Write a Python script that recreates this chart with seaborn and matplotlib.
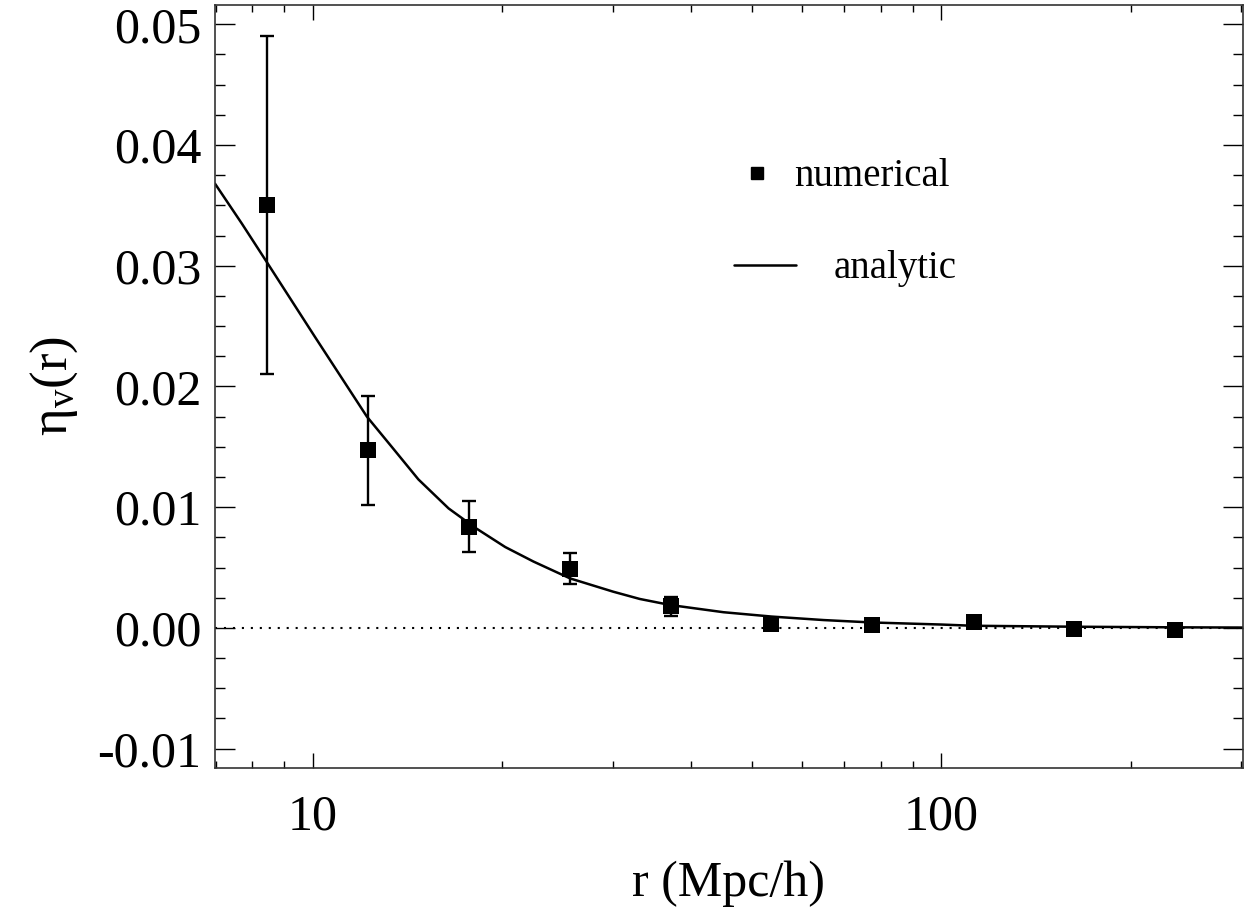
import numpy as np
import pandas as pd
import matplotlib
matplotlib.use('Agg')
import matplotlib.pyplot as plt
import seaborn as sns
from matplotlib.ticker import FixedLocator, FixedFormatter, LogLocator, NullFormatter
from matplotlib.lines import Line2D

# numerical points (r in Mpc/h, eta_v, 1-sigma error)
r_num = [8.45, 12.24, 17.7, 25.6, 37.1, 53.6, 77.6, 112.5, 162.3, 235.0]
eta_num = [0.0350, 0.0147, 0.0084, 0.0049, 0.0018, 0.00033, 0.00022, 0.00046, -0.00012, -0.0002]
eta_err = [0.0140, 0.0045, 0.0021, 0.0013, 0.0008, 0.0004, 0.0003, 0.0003, 0.0002, 0.0002]

# analytic curve
r_ana = [6.98, 7.70, 8.44, 10.07, 12.18, 13.34, 14.71, 16.43, 18.11, 20.22, 22.42, 25.65,
         30.04, 33.1, 37.0, 45.0, 53.7, 65.0, 77.6, 100.0, 112.0, 162.0, 235.0, 302.0]
eta_ana = [0.0368, 0.0335, 0.0303, 0.0241, 0.0175, 0.0150, 0.0123, 0.0099, 0.0083, 0.0067, 0.0055, 0.0041,
           0.0030, 0.0024, 0.0019, 0.0013, 0.00094, 0.00065, 0.00045, 0.00028, 0.00018, 0.0001, 0.00005, 0.00003]

y_ticks = [-0.01, 0.00, 0.01, 0.02, 0.03, 0.04, 0.05]
x_ticks = [10, 100]

df_num = pd.DataFrame({'r': r_num, 'eta': eta_num, 'err': eta_err})
df_ana = pd.DataFrame({'r': r_ana, 'eta': eta_ana})

sns.set_theme(style='ticks')
plt.rcParams['font.family'] = ['Liberation Serif', 'DejaVu Serif']
plt.rcParams['mathtext.fontset'] = 'custom'
plt.rcParams['mathtext.rm'] = 'Liberation Serif'
plt.rcParams['mathtext.it'] = 'Liberation Serif:italic'
plt.rcParams['axes.unicode_minus'] = False
plt.rcParams['text.color'] = 'black'
plt.rcParams['axes.labelcolor'] = 'black'

fig = plt.figure(figsize=(12.5, 9.07), dpi=100)
ax = fig.add_axes([0.172, 0.1533, 0.8224, 0.8412])

ax.axhline(0, color='black', lw=1.5, linestyle=(0, (1, 3.3)), zorder=1)
sns.lineplot(data=df_ana, x='r', y='eta', ax=ax, color='black', lw=1.8, zorder=2)
ax.errorbar(df_num['r'], df_num['eta'], yerr=df_num['err'], fmt='none',
            ecolor='black', elinewidth=1.7, capsize=5, capthick=1.7, zorder=3)
sns.scatterplot(data=df_num, x='r', y='eta', ax=ax, marker='s', s=120,
                color='black', edgecolor='black', linewidth=0, zorder=4)

ax.set_xscale('log')
ax.set_xlim(6.98, 302)
ax.set_ylim(-0.0116, 0.0516)

ax.xaxis.set_major_locator(FixedLocator(x_ticks))
ax.xaxis.set_major_formatter(FixedFormatter([str(t) for t in x_ticks]))
ax.xaxis.set_minor_locator(LogLocator(base=10, subs=np.arange(2, 10)))
ax.xaxis.set_minor_formatter(NullFormatter())
ax.yaxis.set_major_locator(FixedLocator(y_ticks))
ax.yaxis.set_major_formatter(FixedFormatter(['%.2f' % t for t in y_ticks]))
ax.yaxis.set_minor_locator(FixedLocator(np.arange(-0.01, 0.0501, 0.0025)))

ax.tick_params(axis='both', which='both', direction='in', top=True, right=True,
               colors='black', labelcolor='black', width=1.0, labelsize=36)
ax.tick_params(axis='x', which='major', length=11, pad=19)
ax.tick_params(axis='x', which='minor', length=5)
ax.tick_params(axis='y', which='major', length=14.5, pad=10)
ax.tick_params(axis='y', which='minor', length=7.5)
for s in ax.spines.values():
    s.set_color('#333333')
    s.set_linewidth(1.2)

ax.set_xlabel('r (Mpc/h)', fontsize=36, labelpad=14)
ax.set_ylabel(r'$\mathrm{\eta_v(r)}$', fontsize=38, labelpad=12)

h_num = Line2D([], [], marker='s', color='black', linestyle='none', markersize=8)
h_ana = Line2D([], [], color='black', lw=1.8)
leg1 = ax.legend(handles=[h_num], labels=['numerical'], loc='center left',
                 bbox_to_anchor=(0.497, 0.775), frameon=False, fontsize=28,
                 handlelength=1.6, handletextpad=0.15, borderaxespad=0, borderpad=0)
ax.add_artist(leg1)
ax.legend(handles=[h_ana], labels=['analytic'], loc='center left',
          bbox_to_anchor=(0.505, 0.654), frameon=False, fontsize=28,
          handlelength=1.6, handletextpad=0.95, borderaxespad=0, borderpad=0)

fig.savefig('out.png', dpi=100)
